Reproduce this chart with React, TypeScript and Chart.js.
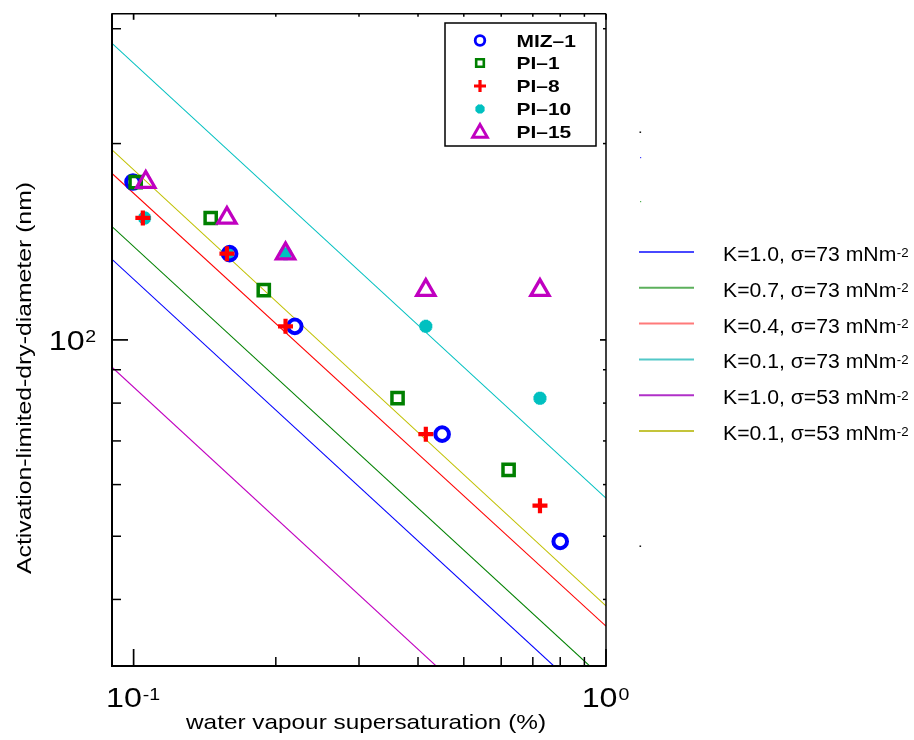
import React, { useEffect, useRef } from 'react';
import { Chart, registerables } from 'chart.js';

Chart.register(...registerables);

// ---------- data ----------
const seriesNames = ['MIZ–1', 'PI–1', 'PI–8', 'PI–10', 'PI–15'];

const mizX = [0.0997, 0.1597, 0.2194, 0.4499, 0.800];
const mizY = [174.6, 135.6, 104.9, 71.7, 49.1];
const pi1X = [0.101, 0.1456, 0.1886, 0.362, 0.622];
const pi1Y = [174.6, 153.8, 119.2, 81.4, 63.2];
const pi8X = [0.1046, 0.1576, 0.2097, 0.4155, 0.7248];
const pi8Y = [153.8, 135.6, 104.9, 71.7, 55.7];
const pi10X = [0.1055, 0.158, 0.2097, 0.4155, 0.7248];
const pi10Y = [153.8, 135.6, 135.6, 104.9, 81.4];
const pi15X = [0.1061, 0.1576, 0.2097, 0.4155, 0.7248];
const pi15Y = [174.6, 153.8, 135.6, 119.2, 119.2];

const curveLabels = [
  'K=1.0, σ=73 mNm',
  'K=0.7, σ=73 mNm',
  'K=0.4, σ=73 mNm',
  'K=0.1, σ=73 mNm',
  'K=1.0, σ=53 mNm',
  'K=0.1, σ=53 mNm',
];
const curveX = [0.09, 1.0];
const k10s73 = [132.9, 26.7];
const k07s73 = [149.2, 30.0];
const k04s73 = [180.0, 36.4];
const k01s73 = [284.9, 57.2];
const k10s53 = [90.8, 18.2];
const k01s53 = [195.6, 39.1];

const xMin = 0.09;
const xMax = 1.0;
const yMin = 31.6228;
const yMax = 316.228;

const xMajorTicks = [0.1, 1];
const xMinorTicks = [0.2, 0.3, 0.4, 0.5, 0.6, 0.7, 0.8, 0.9];
const yMajorTicks = [100];
const yMinorTicks = [40, 50, 60, 70, 80, 90, 200, 300];

const xTitle = 'water vapour supersaturation (%)';
const yTitle = 'Activation-limited-dry-diameter (nm)';

// ---------- styles ----------
const FONT = "'Liberation Sans', Arial, Helvetica, sans-serif";
const seriesStyles = [
  { color: '#0000ff', style: 'circle', r: 6.8, lw: 4, lr: 4.8, llw: 2.8 },
  { color: '#008000', style: 'rect', r: 7.9, lw: 3.5, lr: 5.4, llw: 2.6 },
  { color: '#ff0000', style: 'cross', r: 7.5, lw: 4.2, lr: 6, llw: 3.2 },
  { color: '#00c0c0', style: 'star', r: 6.5, lw: 4.5, lr: 4.6, llw: 3.8 },
  { color: '#c000c0', style: 'triangle', r: 10.5, lw: 3.3, lr: 8.5, llw: 2.9 },
];
const curveColors = ['#0000ff', '#008000', '#ff0000', '#00c0c0', '#c000c0', '#c0c000'];
const legendLineColors = ['#4848ff', '#5cb05c', '#ff7a7a', '#52c8c8', '#b030c8', '#c4c43a'];

const pts = (xs: number[], ys: number[]) => xs.map((x, i) => ({ x, y: ys[i] }));

function drawMarker(ctx: CanvasRenderingContext2D, style: string, x: number, y: number, r: number, lw: number, color: string) {
  ctx.save();
  ctx.strokeStyle = color;
  ctx.lineWidth = lw;
  ctx.beginPath();
  if (style === 'circle') {
    ctx.arc(x, y, r, 0, Math.PI * 2);
  } else if (style === 'rect') {
    const s = r * Math.SQRT1_2;
    ctx.rect(x - s, y - s, 2 * s, 2 * s);
  } else if (style === 'triangle') {
    let a = 0;
    ctx.moveTo(x + Math.sin(a) * r, y - Math.cos(a) * r);
    a += (2 * Math.PI) / 3;
    ctx.lineTo(x + Math.sin(a) * r, y - Math.cos(a) * r);
    a += (2 * Math.PI) / 3;
    ctx.lineTo(x + Math.sin(a) * r, y - Math.cos(a) * r);
    ctx.closePath();
  } else if (style === 'cross') {
    ctx.moveTo(x, y - r);
    ctx.lineTo(x, y + r);
    ctx.moveTo(x - r, y);
    ctx.lineTo(x + r, y);
  } else if (style === 'star') {
    ctx.moveTo(x, y - r);
    ctx.lineTo(x, y + r);
    ctx.moveTo(x - r, y);
    ctx.lineTo(x + r, y);
    const d = r * Math.SQRT1_2;
    ctx.moveTo(x - d, y - d);
    ctx.lineTo(x + d, y + d);
    ctx.moveTo(x - d, y + d);
    ctx.lineTo(x + d, y - d);
  }
  ctx.stroke();
  ctx.restore();
}

function txt(ctx: CanvasRenderingContext2D, s: string, x: number, y: number, font: string, sx: number, align: string = 'left') {
  ctx.save();
  ctx.font = font;
  ctx.textAlign = 'left';
  ctx.textBaseline = 'alphabetic';
  ctx.fillStyle = '#000';
  const w = ctx.measureText(s).width * sx;
  const x0 = align === 'center' ? x - w / 2 : align === 'right' ? x - w : x;
  ctx.translate(x0, y);
  ctx.scale(sx, 1);
  ctx.fillText(s, 0, 0);
  ctx.restore();
  return w;
}

function fitWidth(ctx: CanvasRenderingContext2D, s: string, font: string, target: number) {
  ctx.save();
  ctx.font = font;
  const w = ctx.measureText(s).width;
  ctx.restore();
  return target / w;
}

function seg(ctx: CanvasRenderingContext2D, x1: number, y1: number, x2: number, y2: number) {
  ctx.beginPath();
  ctx.moveTo(x1, y1);
  ctx.lineTo(x2, y2);
  ctx.stroke();
}

const decorPlugin = {
  id: 'decor',
  afterDraw(chart: any) {
    const ctx: CanvasRenderingContext2D = chart.ctx;
    const a = chart.chartArea;
    const xs = chart.scales.x;
    const ys = chart.scales.y;
    ctx.save();
    ctx.strokeStyle = '#000';
    ctx.lineCap = 'butt';

    // frame
    ctx.lineWidth = 2;
    seg(ctx, a.left, a.top - 0.5, a.left, a.bottom + 1);
    seg(ctx, a.left - 1, a.bottom, a.right + 0.75, a.bottom);
    ctx.lineWidth = 1.5;
    seg(ctx, a.left, a.top, a.right, a.top);
    seg(ctx, a.right, a.top, a.right, a.bottom);

    // ticks (inward)
    ctx.lineWidth = 1.7;
    for (const v of xMajorTicks) {
      const p = xs.getPixelForValue(v);
      seg(ctx, p, a.bottom, p, a.bottom - 17);
      seg(ctx, p, a.top, p, a.top + 6);
    }
    ctx.lineWidth = 1.5;
    for (const v of xMinorTicks) {
      const p = xs.getPixelForValue(v);
      seg(ctx, p, a.bottom, p, a.bottom - 9);
      seg(ctx, p, a.top, p, a.top + 3);
    }
    ctx.lineWidth = 1.7;
    for (const v of yMajorTicks) {
      const p = ys.getPixelForValue(v);
      seg(ctx, a.left, p, a.left + 16, p);
      seg(ctx, a.right, p, a.right - 6, p);
    }
    ctx.lineWidth = 1.5;
    for (const v of yMinorTicks) {
      const p = ys.getPixelForValue(v);
      seg(ctx, a.left, p, a.left + 9, p);
      seg(ctx, a.right, p, a.right - 3, p);
    }

    // tick labels
    const bigF = `28px ${FONT}`;
    const supF = `17px ${FONT}`;
    const sxT = 1.15;
    for (const v of xMajorTicks) {
      const p = xs.getPixelForValue(v);
      const e = String(Math.round(Math.log10(v)));
      ctx.save();
      ctx.font = bigF;
      const w1 = ctx.measureText('10').width * sxT;
      ctx.font = supF;
      const w2 = ctx.measureText(e).width * sxT;
      ctx.restore();
      const total = w1 + 1 + w2;
      const x0 = p - total / 2 - 0.5;
      txt(ctx, '10', x0, a.bottom + 41, bigF, sxT);
      txt(ctx, e, x0 + w1 + 1, a.bottom + 33.5, supF, sxT);
    }
    for (const v of yMajorTicks) {
      const p = ys.getPixelForValue(v);
      const e = String(Math.round(Math.log10(v)));
      ctx.save();
      ctx.font = supF;
      const w2 = ctx.measureText(e).width * sxT;
      ctx.restore();
      const end = a.left - 16;
      txt(ctx, e, end - w2, p + 2, supF, sxT);
      txt(ctx, '10', end - w2 - 0.5, p + 10, bigF, sxT, 'right');
    }

    // axis titles
    const titleF = `21px ${FONT}`;
    const sxX = fitWidth(ctx, xTitle, titleF, 360);
    txt(ctx, xTitle, 186, 728.5, titleF, sxX);
    const sxY = fitWidth(ctx, yTitle, titleF, 392);
    ctx.save();
    ctx.translate(30.5, 574);
    ctx.rotate(-Math.PI / 2);
    txt(ctx, yTitle, 0, 0, titleF, sxY);
    ctx.restore();

    // in-plot legend box
    ctx.fillStyle = '#fff';
    ctx.fillRect(445, 23, 151, 123);
    ctx.lineWidth = 1.5;
    ctx.strokeStyle = '#000';
    ctx.strokeRect(445, 23, 151, 123);
    const rows = [40.5, 63, 86, 109, 132];
    const legF = `bold 16.5px ${FONT}`;
    seriesNames.forEach((name, i) => {
      const st = seriesStyles[i];
      const my = st.style === 'triangle' ? rows[i] + 1 : rows[i];
      drawMarker(ctx, st.style, 480, my, st.lr, st.llw, st.color);
      txt(ctx, name, 516.5, rows[i] + 6, legF, 1.27);
    });

    // right legend
    const rF = `20px ${FONT}`;
    const rsF = `12.5px ${FONT}`;
    curveLabels.forEach((lab, i) => {
      const y = 252 + i * 35.8;
      ctx.strokeStyle = legendLineColors[i];
      ctx.lineWidth = 2;
      seg(ctx, 639, y, 694, y);
      const w = txt(ctx, lab, 723, y + 9, rF, 1.06);
      txt(ctx, '-2', 723 + w + 0.5, y + 4.5, rsF, 1.06);
    });

    // small stray marks
    ctx.fillStyle = '#000';
    ctx.fillRect(639.5, 131.5, 1.6, 1.4);
    ctx.fillRect(639.5, 545.5, 1.6, 1.4);
    ctx.fillStyle = '#4040ff';
    ctx.fillRect(640, 157, 1.2, 1.2);
    ctx.fillStyle = '#50b050';
    ctx.fillRect(640, 201, 1.2, 1.2);

    ctx.restore();
  },
};

export default function App() {
  const ref = useRef<HTMLCanvasElement | null>(null);
  useEffect(() => {
    if (!ref.current) return;
    const seriesData = [
      pts(mizX, mizY),
      pts(pi1X, pi1Y),
      pts(pi8X, pi8Y),
      pts(pi10X, pi10Y),
      pts(pi15X, pi15Y),
    ];
    const drawOrder = [3, 2, 1, 4, 0];
    const pointSets = seriesNames.map((name, i) => {
      const st = seriesStyles[i];
      return {
        label: name,
        data: seriesData[i],
        order: drawOrder[i],
        showLine: false,
        pointStyle: st.style,
        pointRadius: st.r,
        pointHoverRadius: st.r,
        pointBorderWidth: st.lw,
        pointHoverBorderWidth: st.lw,
        borderColor: st.color,
        pointBorderColor: st.color,
        backgroundColor: 'rgba(0,0,0,0)',
        pointBackgroundColor: 'rgba(0,0,0,0)',
      };
    });
    const curves = [k10s73, k07s73, k04s73, k01s73, k10s53, k01s53];
    const lineSets = curves.map((ys, i) => ({
      label: curveLabels[i],
      data: pts(curveX, ys),
      order: 10 + i,
      showLine: true,
      pointRadius: 0,
      pointHoverRadius: 0,
      borderColor: curveColors[i],
      borderWidth: 1.1,
      backgroundColor: curveColors[i],
      clip: 0,
    }));
    const chart = new Chart(ref.current, {
      type: 'scatter',
      data: { datasets: [...pointSets, ...lineSets] as any },
      options: {
        animation: false,
        responsive: false,
        events: [],
        layout: { padding: { left: 112, top: 12, right: 308, bottom: 74 } },
        plugins: { legend: { display: false }, tooltip: { enabled: false } },
        scales: {
          x: { type: 'logarithmic', min: xMin, max: xMax, display: false },
          y: { type: 'logarithmic', min: yMin, max: yMax, display: false },
        },
      } as any,
      plugins: [decorPlugin],
    });
    return () => chart.destroy();
  }, []);
  return (
    <div style={{ position: 'absolute', left: 0, top: 0, width: 914, height: 740, background: '#fff' }}>
      <canvas ref={ref} width={914} height={740} style={{ display: 'block' }} />
    </div>
  );
}
